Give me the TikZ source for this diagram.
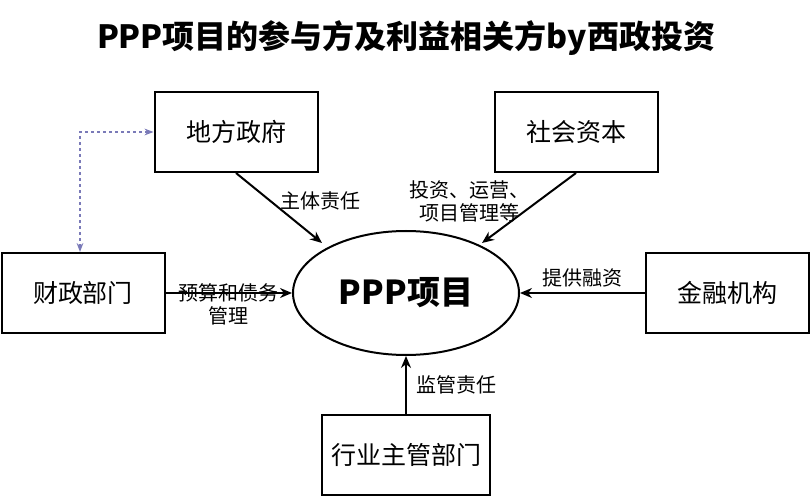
\documentclass[tikz,border=0pt]{standalone}
\usepackage{fontspec}
\setmainfont{Noto Sans CJK SC}
\usetikzlibrary{positioning,arrows.meta,shapes.geometric}
\tikzset{
  box/.style={draw,line width=2pt,minimum width=163pt,minimum height=80pt,font=\fontsize{25}{27}\selectfont},
  lbl/.style={font=\fontsize{20}{23}\selectfont,align=center},
  flow/.style={-{Stealth[length=12pt,width=10pt]},line width=2pt}
}
\begin{document}
\begin{tikzpicture}[x=1pt,y=-1pt]
  \useasboundingbox (0,0) rectangle (812,500);
  \node[font=\fontsize{32}{34}\selectfont\bfseries] (title) at (406,38) {PPP项目的参与方及利益相关方by西政投资};
  \node[draw,ellipse,line width=2pt,minimum width=226pt,minimum height=124pt,font=\fontsize{33}{35}\selectfont\bfseries] (ppp) at (406,293) {PPP项目};
  \node[box] (gov) at (236,132) {地方政府};
  \node[box] (cap) at (576,132) {社会资本};
  \node[box] (fin) at (83,293) {财政部门};
  \node[box] (bank) at (727,293) {金融机构};
  \node[box,minimum width=168pt] (ind) at (406,455) {行业主管部门};
  \draw[flow] (gov.south) -- (322,243) node[lbl,pos=0.4,right=6pt] {主体责任};
  \draw[flow] (cap.south) -- (482,243) node[lbl,pos=0.4,left=5pt] {投资、运营、\\项目管理等};
  \draw[flow] (fin.east) -- (ppp.west) node[lbl,midway,below=-14pt] {预算和债务\\管理};
  \draw[flow] (bank.west) -- (ppp.east) node[lbl,midway,above=2pt] {提供融资};
  \draw[flow] (ind.north) -- (ppp.south) node[lbl,midway,right=6pt] {监管责任};
  \coordinate (corner) at (80,132);
  \draw[gray!70!blue!80,dashed,line width=1.6pt,{Stealth[length=9pt]}-{Stealth[length=9pt]}] (fin.north -| corner) -- (corner) -- (gov.west);
\end{tikzpicture}
\end{document}
